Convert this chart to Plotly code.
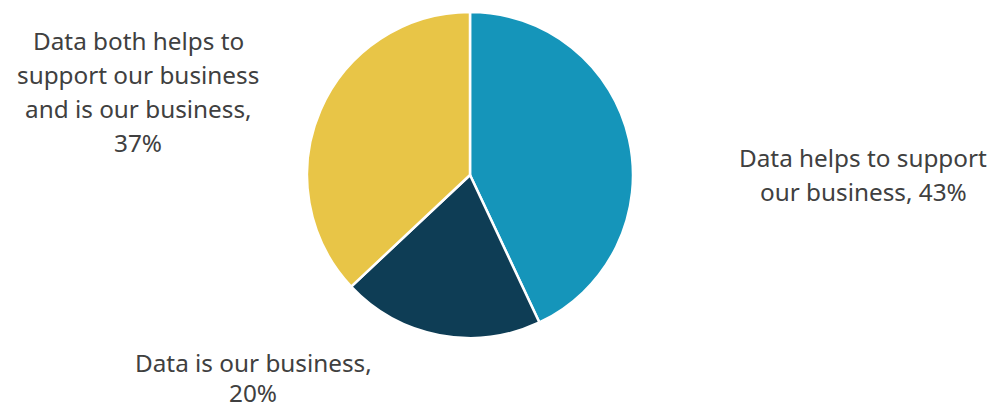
import plotly.graph_objects as go

categories = ["Data helps to support our business", "Data is our business", "Data both helps to support our business and is our business"]
values = [43, 20, 37]
colors = ["#1595BA", "#0E3D55", "#E8C547"]
# label line breaks as displayed
label_lines = [
    ["Data helps to support", "our business, {v}%"],
    ["Data is our business,", "{v}%"],
    ["Data both helps to", "support our business", "and is our business,", "{v}%"],
]
# label centre positions (px from left, px from top of first line), line spacing
label_pos = [(863, 157), (253, 362), (138, 40)]
line_h = 34.3

W, H = 992, 411
cx, cy, r = 470, 175, 163

fig = go.Figure(go.Pie(
    labels=categories, values=values, sort=False, direction="clockwise", rotation=0,
    marker=dict(colors=colors, line=dict(color="white", width=2.5)),
    textinfo="none", hoverinfo="label+percent", showlegend=False,
    domain=dict(x=[(cx - r) / W, (cx + r) / W], y=[(H - cy - r) / H, (H - cy + r) / H]),
))

anns = []
for lines, v, (x, y0) in zip(label_lines, values, label_pos):
    for i, ln in enumerate(lines):
        y = min(y0 + i * line_h, 392)
        anns.append(dict(text=ln.format(v=v), x=x / W, y=1 - y / H, xref="paper", yref="paper",
                         xanchor="center", yanchor="middle", showarrow=False, borderpad=0,
                         font=dict(family="Noto Sans, sans-serif", size=24.3, color="#404040")))

fig.update_layout(width=W, height=H, margin=dict(l=0, r=0, t=0, b=0),
                  paper_bgcolor="white", plot_bgcolor="white", annotations=anns)
fig.write_html("out.html")
